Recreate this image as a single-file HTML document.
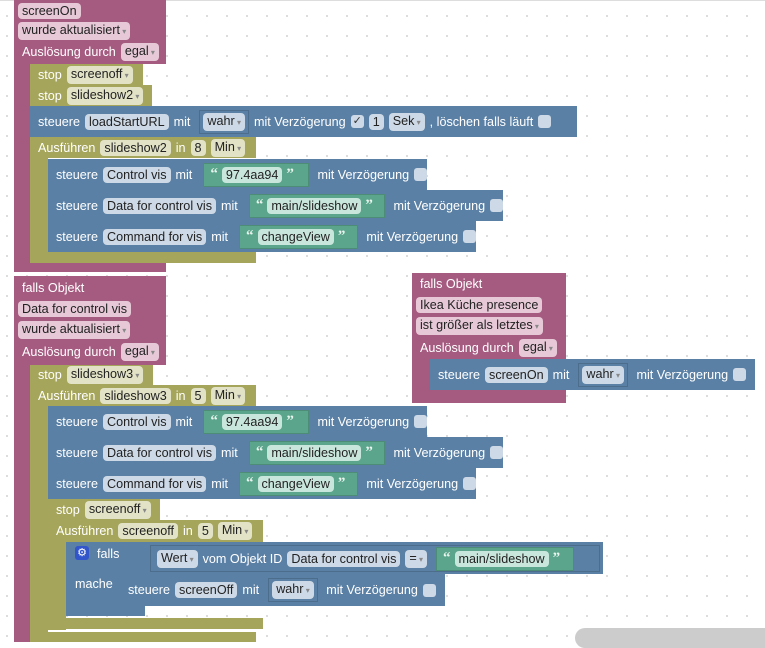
<!DOCTYPE html>
<html><head><meta charset="utf-8"><style>
*{margin:0;padding:0;box-sizing:border-box}
body{width:765px;height:642px;overflow:hidden;position:relative;background:#fff;
background-image:radial-gradient(circle,#d6d6d6 0.8px,transparent 1.2px);background-size:20px 20px;background-position:-3px 6px;
font-family:"Liberation Sans",Arial,sans-serif;font-size:12.6px;color:#fff}
.a{position:absolute}
.p{background:#a55b80}.o{background:#a5a55b}.b{background:#5b80a5}.g{background:#5ba58c}
.r{position:absolute;display:flex;align-items:center;white-space:nowrap;padding-left:8px;gap:5px}
.f{color:#222;border-radius:4px;padding:1px 4px;line-height:14px}
.p .f{background:#e6c8d6}.o .f{background:#e2e2c6}.b .f{background:#cdd9e6}.g .f{background:#c9e6dc}
.dd::after{content:" ▾";font-size:8px;color:#888}
.cb{display:inline-block;width:13px;height:13px;border-radius:3px;background:#cdd9e6}
.q{font-weight:bold;color:#e8f4ee;font-size:15px;font-family:"Liberation Serif",serif}
.sock{display:inline-flex;align-items:center;gap:4px;height:24px;padding:0 6px;border:1px solid rgba(0,0,0,.15)}
</style></head><body>
<div class="a" style="left:0;top:0;width:765px;height:1px;background:#ddd"></div>

<!-- block 1 -->
<div class="a p" style="left:14px;top:0;width:16px;height:272px"></div>
<div class="a p" style="left:14px;top:0;width:152px;height:64px"></div>
<div class="r p" style="left:14px;top:2px;padding-left:4px;height:18px;background:none"><span class="f" style="padding:1px 4px">screenOn</span></div>
<div class="r p" style="left:14px;top:22px;padding-left:4px;height:18px;background:none"><span class="f dd">wurde aktualisiert</span></div>
<div class="r p" style="left:14px;top:43px;height:18px;background:none">Auslösung durch <span class="f dd">egal</span></div>
<div class="a p" style="left:14px;top:262px;width:152px;height:10px"></div>

<div class="a o" style="left:30px;top:64px;width:18px;height:198px"></div>
<div class="r o" style="left:30px;top:64px;width:113px;height:21px">stop <span class="f dd">screenoff</span></div>
<div class="r o" style="left:30px;top:85px;width:122px;height:21px">stop <span class="f dd">slideshow2</span></div>
<div class="r b" style="left:30px;top:106px;width:547px;height:31px">steuere <span class="f">loadStartURL</span> mit <span class="sock" style="padding:0 3px;margin-left:4px"><span class="f dd">wahr</span></span> mit Verzögerung <span class="cb" style="color:#333;font-size:11px;text-align:center;line-height:13px">✓</span> <span class="f">1</span><span class="f dd">Sek</span>, löschen falls läuft <span class="cb"></span></div>
<div class="r o" style="left:30px;top:137px;width:226px;height:21px">Ausführen <span class="f">slideshow2</span> in <span class="f">8</span> <span class="f dd">Min</span></div>
<div class="a o" style="left:30px;top:252px;width:226px;height:11px"></div>

<div class="r b" style="left:48px;top:159px;width:379px;height:31px">steuere <span class="f">Control vis</span> mit <span class="sock g" style="margin-left:6px;width:107px"><span class="q">“</span><span class="f">97.4aa94</span><span class="q">”</span></span> &nbsp;mit Verzögerung <span class="cb"></span></div>
<div class="r b" style="left:48px;top:190px;width:455px;height:31px">steuere <span class="f">Data for control vis</span> mit <span class="sock g" style="margin-left:6px;width:138px"><span class="q">“</span><span class="f">main/slideshow</span><span class="q">”</span></span> &nbsp;mit Verzögerung <span class="cb"></span></div>
<div class="r b" style="left:48px;top:221px;width:428px;height:31px">steuere <span class="f">Command for vis</span> mit <span class="sock g" style="margin-left:6px;width:120px"><span class="q">“</span><span class="f">changeView</span><span class="q">”</span></span> &nbsp;mit Verzögerung <span class="cb"></span></div>

<!-- block 2 -->
<div class="a p" style="left:14px;top:276px;width:16px;height:366px"></div>
<div class="a p" style="left:14px;top:276px;width:152px;height:89px"></div>
<div class="r" style="left:14px;top:279px;height:18px;padding-left:8px">falls Objekt</div>
<div class="r p" style="left:14px;top:300px;padding-left:4px;height:18px;background:none"><span class="f">Data for control vis</span></div>
<div class="r p" style="left:14px;top:321px;padding-left:4px;height:18px;background:none"><span class="f dd">wurde aktualisiert</span></div>
<div class="r p" style="left:14px;top:343px;height:18px;background:none">Auslösung durch <span class="f dd">egal</span></div>

<div class="a o" style="left:30px;top:365px;width:18px;height:277px"></div>
<div class="r o" style="left:30px;top:365px;width:123px;height:20px">stop <span class="f dd">slideshow3</span></div>
<div class="r o" style="left:30px;top:385px;width:226px;height:21px">Ausführen <span class="f">slideshow3</span> in <span class="f">5</span> <span class="f dd">Min</span></div>
<div class="a o" style="left:30px;top:632px;width:226px;height:10px"></div>

<div class="r b" style="left:48px;top:406px;width:379px;height:31px">steuere <span class="f">Control vis</span> mit <span class="sock g" style="margin-left:6px;width:107px"><span class="q">“</span><span class="f">97.4aa94</span><span class="q">”</span></span> &nbsp;mit Verzögerung <span class="cb"></span></div>
<div class="r b" style="left:48px;top:437px;width:455px;height:31px">steuere <span class="f">Data for control vis</span> mit <span class="sock g" style="margin-left:6px;width:138px"><span class="q">“</span><span class="f">main/slideshow</span><span class="q">”</span></span> &nbsp;mit Verzögerung <span class="cb"></span></div>
<div class="r b" style="left:48px;top:468px;width:428px;height:31px">steuere <span class="f">Command for vis</span> mit <span class="sock g" style="margin-left:6px;width:120px"><span class="q">“</span><span class="f">changeView</span><span class="q">”</span></span> &nbsp;mit Verzögerung <span class="cb"></span></div>

<div class="r o" style="left:48px;top:499px;width:112px;height:21px">stop <span class="f dd">screenoff</span></div>
<div class="a o" style="left:48px;top:520px;width:18px;height:110px"></div>
<div class="r o" style="left:48px;top:520px;width:215px;height:22px">Ausführen <span class="f">screenoff</span> in <span class="f">5</span> <span class="f dd">Min</span></div>
<div class="a o" style="left:48px;top:618px;width:215px;height:11px"></div>

<div class="a b" style="left:66px;top:542px;width:79px;height:74px"></div>
<div class="a b" style="left:145px;top:542px;width:458px;height:32px"></div>
<div class="a" style="left:75px;top:546px;width:14px;height:14px;background:#3355cc;border-radius:3px;color:#fff;font-size:11px;text-align:center;line-height:14px">⚙</div>
<div class="r" style="left:90px;top:545px;height:18px;padding-left:7px">falls</div>
<div class="r" style="left:68px;top:575px;height:18px;padding-left:7px">mache</div>
<div class="r b" style="left:150px;top:545px;height:27px;padding-left:6px;border:1px solid rgba(0,0,0,.15);width:450px"><span class="f dd">Wert</span> vom Objekt ID <span class="f">Data for control vis</span> <span class="f dd">=</span><span class="sock g" style="margin-left:4px;width:138px"><span class="q">“</span><span class="f">main/slideshow</span><span class="q">”</span></span></div>
<div class="r b" style="left:120px;top:574px;width:325px;height:32px">steuere <span class="f">screenOff</span> mit <span class="sock" style="padding:0 3px;margin-left:4px"><span class="f dd">wahr</span></span> &nbsp;mit Verzögerung <span class="cb"></span></div>

<!-- block 3 -->
<div class="a p" style="left:412px;top:273px;width:154px;height:130px"></div>
<div class="r" style="left:412px;top:275px;height:18px;padding-left:8px">falls Objekt</div>
<div class="r p" style="left:412px;top:296px;padding-left:4px;height:18px;background:none"><span class="f">Ikea Küche presence</span></div>
<div class="r p" style="left:412px;top:317px;padding-left:4px;height:18px;background:none"><span class="f dd">ist größer als letztes</span></div>
<div class="r p" style="left:412px;top:339px;height:18px;background:none">Auslösung durch <span class="f dd">egal</span></div>
<div class="r b" style="left:430px;top:359px;width:325px;height:31px">steuere <span class="f">screenOn</span> mit <span class="sock" style="padding:0 3px;margin-left:4px"><span class="f dd">wahr</span></span> &nbsp;mit Verzögerung <span class="cb"></span></div>

<div class="a" style="left:575px;top:628px;width:200px;height:20px;background:#ccc;border-radius:10px"></div>
</body></html>
